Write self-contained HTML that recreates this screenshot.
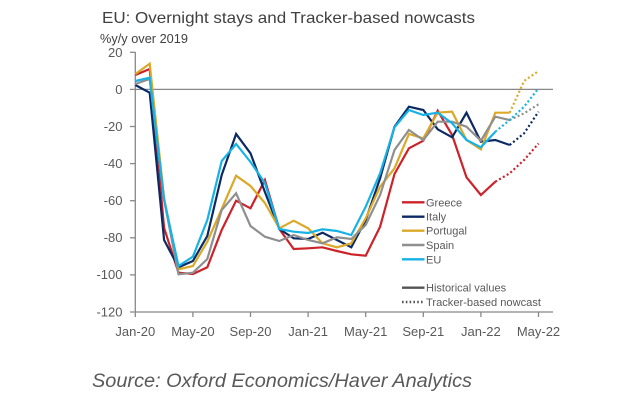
<!DOCTYPE html>
<html>
<head>
<meta charset="utf-8">
<style>
  html,body{margin:0;padding:0;background:#fff;}
  body{width:626px;height:412px;overflow:hidden;}
  svg{display:block;}
  text{font-family:"Liberation Sans",Arial,sans-serif;}
</style>
</head>
<body>
<svg width="626" height="412" viewBox="0 0 626 412" xmlns="http://www.w3.org/2000/svg">
  <rect width="626" height="412" fill="#fff"/>
  <!-- Title -->
  <text x="102" y="23" font-size="16" fill="#404040" textLength="373" lengthAdjust="spacingAndGlyphs">EU: Overnight stays and Tracker-based nowcasts</text>
  <text x="100" y="43" font-size="12.5" fill="#404040" textLength="88" lengthAdjust="spacingAndGlyphs">%y/y over 2019</text>

  <!-- Axes -->
  <g stroke="#888" stroke-width="1.3" fill="none">
    <line x1="135.3" y1="52" x2="135.3" y2="312"/>
    <line x1="130" y1="312" x2="553" y2="312"/>
    <line x1="130" y1="89.4" x2="553" y2="89.4"/>
    <!-- y ticks -->
    <line x1="130" y1="52.3" x2="135.3" y2="52.3"/>
    <line x1="130" y1="126.5" x2="135.3" y2="126.5"/>
    <line x1="130" y1="163.6" x2="135.3" y2="163.6"/>
    <line x1="130" y1="200.7" x2="135.3" y2="200.7"/>
    <line x1="130" y1="237.8" x2="135.3" y2="237.8"/>
    <line x1="130" y1="274.9" x2="135.3" y2="274.9"/>
    <!-- x ticks -->
    <line x1="135.3" y1="312" x2="135.3" y2="317"/>
    <line x1="192.9" y1="312" x2="192.9" y2="317"/>
    <line x1="250.5" y1="312" x2="250.5" y2="317"/>
    <line x1="308.1" y1="312" x2="308.1" y2="317"/>
    <line x1="365.7" y1="312" x2="365.7" y2="317"/>
    <line x1="423.3" y1="312" x2="423.3" y2="317"/>
    <line x1="480.9" y1="312" x2="480.9" y2="317"/>
    <line x1="538.5" y1="312" x2="538.5" y2="317"/>
  </g>

  <!-- y tick labels -->
  <g font-size="13" fill="#595959" text-anchor="end">
    <text x="122.5" y="57">20</text>
    <text x="122.5" y="94">0</text>
    <text x="122.5" y="131">-20</text>
    <text x="122.5" y="168">-40</text>
    <text x="122.5" y="205">-60</text>
    <text x="122.5" y="242">-80</text>
    <text x="122.5" y="279">-100</text>
    <text x="122.5" y="316.5">-120</text>
  </g>
  <!-- x tick labels -->
  <g font-size="13" fill="#595959" text-anchor="middle">
    <text x="135.3" y="336">Jan-20</text>
    <text x="192.9" y="336">May-20</text>
    <text x="250.5" y="336">Sep-20</text>
    <text x="308.1" y="336">Jan-21</text>
    <text x="365.7" y="336">May-21</text>
    <text x="423.3" y="336">Sep-21</text>
    <text x="480.9" y="336">Jan-22</text>
    <text x="538.5" y="336">May-22</text>
  </g>

  <!-- Series -->
  <g fill="none" stroke-width="2.2" stroke-linejoin="miter">
    <!-- Greece -->
    <polyline stroke="#cc2229" points="135.3,75 149.7,69 164.1,228 178.5,272.7 192.9,274 207.3,267.3 221.7,230 236.1,200.7 250.5,208.3 264.9,180 279.3,229 293.7,249 308.1,248.3 322.5,247.3 336.9,251 351.3,254.3 365.7,255.7 380.1,226.7 394.5,174 408.9,148.3 423.3,140.7 437.7,110.7 452.1,135 466.5,177.3 480.9,195 495.3,181.7"/>
    <polyline stroke="#cc2229" stroke-dasharray="2 2.4" points="495.3,181.7 509.7,173.3 524.1,160 538.5,143.5"/>
    <!-- Italy -->
    <polyline stroke="#0b2a63" points="135.3,85 149.7,92.7 164.1,240 178.5,267.3 192.9,261 207.3,236 221.7,175 236.1,134 250.5,153.3 264.9,192 279.3,229 293.7,238.3 308.1,239 322.5,232.7 336.9,240 351.3,247.3 365.7,220 380.1,178.3 394.5,126.7 408.9,106.7 423.3,110 437.7,129.3 452.1,137.3 466.5,112.7 480.9,141.7 495.3,140 509.7,145"/>
    <polyline stroke="#0b2a63" stroke-dasharray="2 2.4" points="509.7,145 524.1,133.3 538.5,111.7"/>
    <!-- Portugal -->
    <polyline stroke="#dba928" points="135.3,74 149.7,63.7 164.1,198 178.5,269.3 192.9,266 207.3,241.7 221.7,209 236.1,175.7 250.5,186 264.9,203 279.3,228.3 293.7,220.7 308.1,228.3 322.5,243.3 336.9,247.3 351.3,243.3 365.7,218.3 380.1,186.7 394.5,168.3 408.9,134 423.3,138.3 437.7,112.7 452.1,111.7 466.5,140 480.9,149.3 495.3,112.7 509.7,112.7"/>
    <polyline stroke="#dba928" stroke-dasharray="2 2.4" points="509.7,112.7 524.1,81 538.5,71"/>
    <!-- Spain -->
    <polyline stroke="#8f8f8f" points="135.3,84 149.7,79 164.1,200 178.5,274.3 192.9,272.7 207.3,259 221.7,210 236.1,193.3 250.5,226 264.9,236.7 279.3,241 293.7,235 308.1,240 322.5,243.3 336.9,237.3 351.3,239 365.7,225 380.1,195 394.5,150 408.9,130 423.3,140 437.7,121.7 452.1,121.7 466.5,126.7 480.9,140.7 495.3,116.7 509.7,120"/>
    <polyline stroke="#8f8f8f" stroke-dasharray="2 2.4" points="509.7,120 524.1,113.3 538.5,104.3"/>
    <!-- EU -->
    <polyline stroke="#17b2e5" points="135.3,81 149.7,77.7 164.1,200 178.5,266 192.9,256.7 207.3,220 221.7,161 236.1,144 250.5,162 264.9,183 279.3,229 293.7,231.7 308.1,233 322.5,229.3 336.9,231 351.3,235 365.7,206.7 380.1,173.3 394.5,127.3 408.9,110 423.3,115 437.7,112.7 452.1,123.3 466.5,140 480.9,147.3 495.3,131.7"/>
    <polyline stroke="#17b2e5" stroke-dasharray="2 2.4" points="495.3,131.7 509.7,120 524.1,106.7 538.5,88.3"/>
  </g>

  <!-- Legend -->
  <g stroke-width="2.4" fill="none">
    <line x1="402" y1="202.3" x2="424.5" y2="202.3" stroke="#cc2229"/>
    <line x1="402" y1="216.7" x2="424.5" y2="216.7" stroke="#0b2a63"/>
    <line x1="402" y1="230.7" x2="424.5" y2="230.7" stroke="#dba928"/>
    <line x1="402" y1="245" x2="424.5" y2="245" stroke="#8f8f8f"/>
    <line x1="402" y1="259.3" x2="424.5" y2="259.3" stroke="#17b2e5"/>
    <line x1="402" y1="287.7" x2="424.5" y2="287.7" stroke="#555"/>
    <line x1="402" y1="302" x2="424.5" y2="302" stroke="#555" stroke-dasharray="1.6 2.2"/>
  </g>
  <g font-size="11" fill="#595959">
    <text x="426" y="206.3">Greece</text>
    <text x="426" y="220.7">Italy</text>
    <text x="426" y="234.7">Portugal</text>
    <text x="426" y="249">Spain</text>
    <text x="426" y="263.3">EU</text>
    <text x="426" y="291.7">Historical values</text>
    <text x="426" y="306" textLength="115" lengthAdjust="spacingAndGlyphs">Tracker-based nowcast</text>
  </g>

  <!-- Source -->
  <text x="92" y="387" font-size="19.5" font-style="italic" fill="#595959" textLength="380" lengthAdjust="spacingAndGlyphs">Source: Oxford Economics/Haver Analytics</text>
</svg>
</body>
</html>
